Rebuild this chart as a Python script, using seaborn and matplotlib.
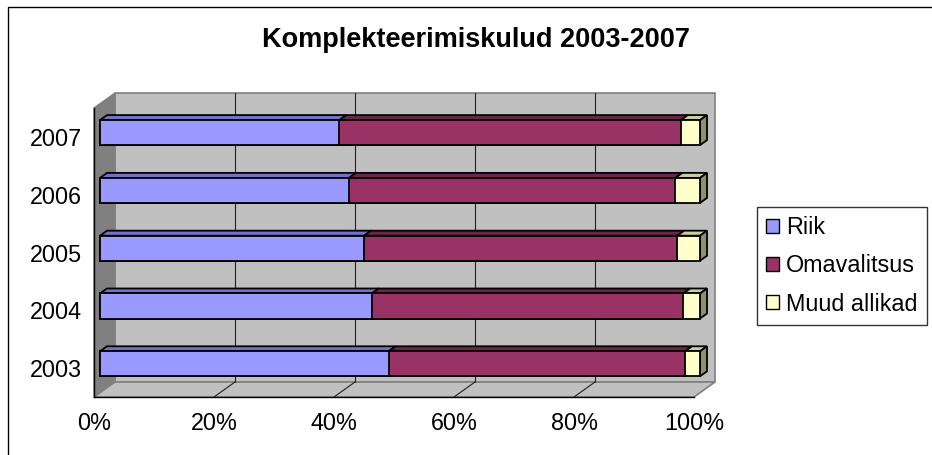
import numpy as np
import pandas as pd
import seaborn as sns
import matplotlib.pyplot as plt
from matplotlib.patches import Polygon, Rectangle, Patch
from matplotlib.transforms import Affine2D

years = ['2003', '2004', '2005', '2006', '2007']
riik = [48.1, 45.3, 44.0, 41.5, 39.9]
omavalitsus = [49.4, 51.9, 52.2, 54.4, 56.9]
muud = [2.5, 2.8, 3.8, 4.1, 3.2]

series = ['Riik', 'Omavalitsus', 'Muud allikad']
front = ['#9999FF', '#993366', '#FFFFCC']
tops = ['#7272CC', '#6E2447', '#CCCC9E']
side = '#8F8F6B'

sns.set_style('white')
plt.rcParams['font.family'] = ['Liberation Sans', 'DejaVu Sans']
plt.rcParams['text.color'] = 'black'
plt.rcParams['xtick.color'] = 'black'
plt.rcParams['ytick.color'] = 'black'
plt.rcParams['axes.labelcolor'] = 'black'

W, H = 932, 455
fig = plt.figure(figsize=(W / 100, H / 100), dpi=100)

# front plane of the pseudo-3d box, in pixels
x0, x1, ytop, ybot = 94, 694, 108, 397
ax = fig.add_axes([x0 / W, 1 - ybot / H, (x1 - x0) / W, (ybot - ytop) / H])

df = pd.DataFrame({'year': years, 'riik': riik, 'oma': omavalitsus, 'muud': muud})
df['c1'] = df['riik']
df['c2'] = df['riik'] + df['oma']
df['c3'] = df['c2'] + df['muud']
order = years[::-1]

bw = 0.433
# depth of the box in data units (21 px right, 15 px up)
DX = 21 / ((x1 - x0) / 100)
DY = 15 / ((ybot - ytop) / 5)
f0, f1 = 0.286, 0.62

for col, c in zip(['c3', 'c2', 'c1'], front[::-1]):
    sns.barplot(data=df, y='year', x=col, order=order, color=c, saturation=1,
                width=bw, edgecolor='black', linewidth=1.3, ax=ax)

# push the bar fronts back into the box
for cont in ax.containers:
    for p in cont:
        p.set_transform(Affine2D().translate(f0 * DX, -f0 * DY) + ax.transData)
        p.set_clip_on(False)
        p.set_zorder(3)

ax.set_xlim(0, 100)
ax.set_ylim(4.5, -0.5)
ax.patch.set_visible(False)

# walls and floor
lo, hi = -0.5, 4.5
back = Polygon([(DX, lo - DY), (100 + DX, lo - DY), (100 + DX, hi - DY), (DX, hi - DY)],
               closed=True, facecolor='#C0C0C0', edgecolor='#808080', lw=1.2, zorder=0.2, clip_on=False)
left = Polygon([(0, lo), (DX, lo - DY), (DX, hi - DY), (0, hi)],
               closed=True, facecolor='#808080', edgecolor='#808080', lw=1, zorder=0.3, clip_on=False)
floor = Polygon([(0, hi), (100, hi), (100 + DX, hi - DY), (DX, hi - DY)],
                closed=True, facecolor='#C0C0C0', edgecolor='#808080', lw=1.2, zorder=0.3, clip_on=False)
for p in (back, left, floor):
    ax.add_patch(p)

for g in [20, 40, 60, 80]:
    ax.plot([g + DX, g + DX], [lo - DY, hi - DY], color='#202020', lw=0.8, zorder=0.5, clip_on=False)
    ax.plot([g, g + DX], [hi, hi - DY], color='#202020', lw=0.8, zorder=0.5, clip_on=False)

# top faces and right side face of the stacked prisms
d = f1 - f0
for i, y in enumerate(order):
    row = df[df['year'] == y].iloc[0]
    edges = [0, row['c1'], row['c2'], row['c3']]
    yt = i - bw / 2 - f0 * DY
    yb = i + bw / 2 - f0 * DY
    for k in range(3):
        a = edges[k] + f0 * DX
        b = edges[k + 1] + f0 * DX
        ax.add_patch(Polygon([(a, yt), (b, yt), (b + d * DX, yt - d * DY), (a + d * DX, yt - d * DY)],
                             closed=True, facecolor=tops[k], edgecolor='black', lw=1.3,
                             zorder=2.5, clip_on=False))
    e = edges[3] + f0 * DX
    ax.add_patch(Polygon([(e, yt), (e + d * DX, yt - d * DY), (e + d * DX, yb - d * DY), (e, yb)],
                         closed=True, facecolor=side, edgecolor='black', lw=1.3,
                         zorder=2.5, clip_on=False))

# axes styling
for s in ['top', 'right']:
    ax.spines[s].set_visible(False)
for s in ['left', 'bottom']:
    ax.spines[s].set_color('black')
    ax.spines[s].set_linewidth(1.0)
    ax.spines[s].set_zorder(2)

ax.set_xlabel('')
ax.set_ylabel('')
ax.set_xticks(np.arange(0, 101, 20))
ax.set_xticklabels([f'{v}%' for v in range(0, 101, 20)])
ax.set_yticks(np.arange(-0.5, 5, 1), minor=True)
ax.tick_params(axis='x', direction='out', length=3.6, width=0.8, color='black',
               pad=7, labelsize=16.8, labelcolor='black')
ax.tick_params(axis='y', which='major', length=0, pad=8.5, labelsize=16.8, labelcolor='black')
ax.tick_params(axis='y', which='minor', direction='out', length=3.6, width=0.8, color='black')
ax.tick_params(axis='x', which='minor', length=0)

fig.text(476 / W, 1 - 40 / H, 'Komplekteerimiskulud 2003-2007', ha='center', va='center',
         fontsize=19.5, fontweight='bold', color='black')

handles = [Patch(facecolor=c, edgecolor='black', lw=1.0) for c in front]
leg = fig.legend(handles, series, loc='upper left', bbox_to_anchor=(757 / W, 1 - 207 / H),
                 borderaxespad=0, fontsize=16.8, frameon=True, fancybox=False,
                 handlelength=0.55, handleheight=0.55, handletextpad=0.3,
                 labelspacing=0.65, borderpad=0.4, labelcolor='black')
leg.get_frame().set_edgecolor('black')
leg.get_frame().set_linewidth(1.0)

# outer chart border
fig.add_artist(Rectangle((8 / W, -1), 5, 2 - 7 / H, transform=fig.transFigure,
                         fill=False, edgecolor='black', lw=1.0))

fig.savefig('out.png', dpi=100)
